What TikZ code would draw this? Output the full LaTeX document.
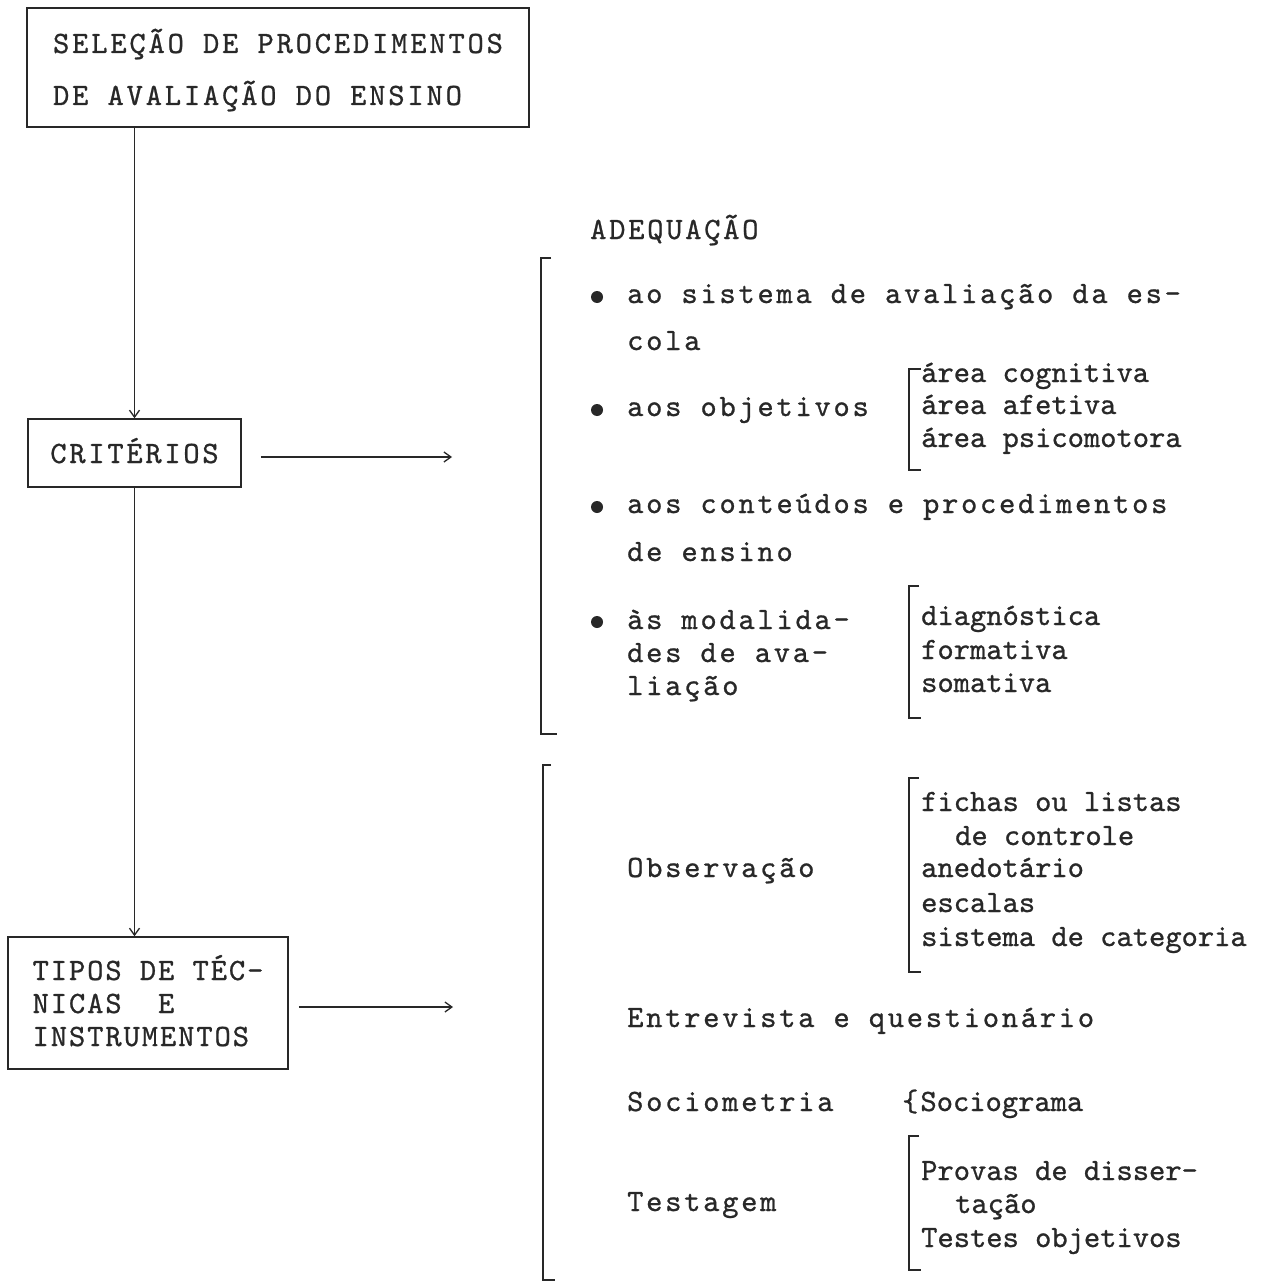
\documentclass[tikz,border=0pt]{standalone}
\usepackage{fontspec}
\usetikzlibrary{arrows.meta}
\newfontfamily\wideTT{lmmono10-regular}[Extension=.otf,LetterSpace=8.8,FakeBold=0.8]
\newfontfamily\boxaTT{lmmono10-regular}[Extension=.otf,LetterSpace=9.1,FakeBold=0.8]
\newfontfamily\boxcTT{lmmono10-regular}[Extension=.otf,LetterSpace=6.2,FakeBold=0.8]
\newfontfamily\narrowTT{lmmono10-regular}[Extension=.otf,FakeBold=0.8]
\newcommand\fwide{\wideTT\fontsize{31}{33}\selectfont}
\newcommand\fboxa{\boxaTT\fontsize{31}{52}\selectfont}
\newcommand\fboxc{\boxcTT\fontsize{31}{33}\selectfont}
\newcommand\fnarrow{\narrowTT\fontsize{31}{33}\selectfont}
\definecolor{ink}{RGB}{40,40,40}
\tikzset{
  box/.style={draw=ink, line width=1.5pt, inner sep=0pt, text=ink},
  wide/.style={anchor=base west, inner sep=0pt, font=\fwide, text=ink},
  narrow/.style={anchor=base west, inner sep=0pt, font=\fnarrow, text=ink},
  arr/.style={draw=ink, line width=1.3pt, -{Straight Barb[length=7pt,width=10pt]}},
  brk/.style={draw=ink, line width=1.3pt},
  dot/.style={circle, fill=ink, inner sep=0pt, minimum size=12pt},
}
\begin{document}
\begin{tikzpicture}[x=1pt,y=-1pt]
\path[use as bounding box, fill=white] (0,0) rectangle (1261,1284);

% left boxes
\node[box, font=\fboxa, align=left, text height=80pt, text depth=5pt,
      minimum width=502pt, minimum height=119pt] (b1) at (278,67.5)
      {SELEÇÃO DE PROCEDIMENTOS\\DE AVALIAÇÃO DO ENSINO};
\node[box, font=\fwide, text height=25pt, text depth=5pt,
      minimum width=213pt, minimum height=68pt] (b2) at (134.5,453) {CRITÉRIOS};
\node[box, font=\fboxc, align=left, text height=91pt, text depth=5pt,
      minimum width=280pt, minimum height=132pt] (b3) at (148,1003)
      {TIPOS DE TÉC-\\NICAS~~E\\INSTRUMENTOS};

\coordinate (a1) at (452,457);
\coordinate (a2) at (453,1007);
\draw[arr] (b2.north |- b1.south) -- (b2.north);
\draw[arr] (b2.south) -- (b2.south |- b3.north);
\draw[arr, shorten <=19pt] (b2.east |- a1) -- (a1);
\draw[arr, shorten <=10pt] (b3.east |- a2) -- (a2);

% upper group
\node[wide] (adq) at (590,239) {ADEQUAÇÃO};
\draw[brk] (551,258) -- (541,258) -- (541,734) -- (557,734);

\node[dot] (d1) at (597,297) {};
\node[wide] (t1a) at (627,303) {ao sistema de avaliação da es-};
\node[wide] (t1b) at (627,350) {cola};

\node[dot] (d2) at (597,410) {};
\node[wide] (t2) at (627,416) {aos objetivos};
\draw[brk] (921,369) -- (909,369) -- (909,470) -- (921,470);
\node[narrow] (o1) at (921,382) {área cognitiva};
\node[narrow] (o2) at (921,414) {área afetiva};
\node[narrow] (o3) at (921,447) {área psicomotora};

\node[dot] (d3) at (597,507) {};
\node[wide] (t3a) at (627,513) {aos conteúdos e procedimentos};
\node[wide] (t3b) at (627,561) {de ensino};

\node[dot] (d4) at (597,622) {};
\node[wide] (t4a) at (627,629) {às modalida-};
\node[wide] (t4b) at (627,662) {des de ava-};
\node[wide] (t4c) at (627,695) {liação};
\draw[brk] (919,586) -- (909,586) -- (909,718) -- (921,718);
\node[narrow] (m1) at (921,625) {diagnóstica};
\node[narrow] (m2) at (921,659) {formativa};
\node[narrow] (m3) at (921,692) {somativa};

% lower group
\draw[brk] (551,765) -- (543,765) -- (543,1280) -- (555,1280);

\node[wide] (obs) at (627,877) {Observação};
\draw[brk] (919,778) -- (909,778) -- (909,972) -- (921,972);
\node[narrow] (f1) at (921,811) {fichas ou listas};
\node[narrow] (f2) at (955,845) {de controle};
\node[narrow] (f3) at (921,877) {anedotário};
\node[narrow] (f4) at (921,912) {escalas};
\node[narrow] (f5) at (921,946) {sistema de categoria};

\node[wide] (ent) at (627,1027) {Entrevista e questionário};

\node[wide] (soc) at (627,1111) {Sociometria};
\node[narrow] (sg) at (902,1111) {\{\hspace{2pt}Sociograma};

\node[wide] (tst) at (627,1211) {Testagem};
\draw[brk] (919,1136) -- (909,1136) -- (909,1270) -- (921,1270);
\node[narrow] (p1) at (921,1180) {Provas de disser-};
\node[narrow] (p2) at (955,1213) {tação};
\node[narrow] (p3) at (921,1247) {Testes objetivos};
\end{tikzpicture}
\end{document}
